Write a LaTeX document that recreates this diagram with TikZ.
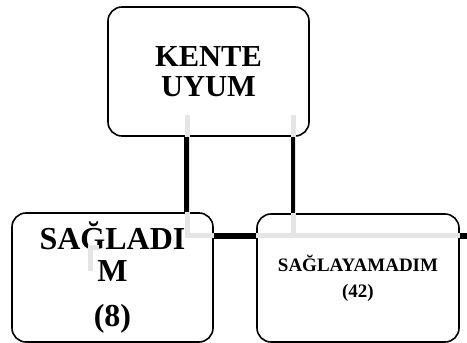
\documentclass[tikz,border=0pt]{standalone}
\usepackage{fontspec}
\setmainfont{Liberation Serif}

\tikzset{
	box/.style={draw, line width=1.6pt, rounded corners=14pt, fill=white, minimum width=201pt, minimum height=129pt, align=center, inner sep=0pt},
	link/.style={line width=4.4pt},
	ghost/.style={gray!20, line width=5pt}
}

\begin{document}
\begin{tikzpicture}[x=1pt, y=-1pt]
	\useasboundingbox (0,0) rectangle (467,343);
	\node [box, font=\bfseries\fontsize{30.5}{30}\selectfont] (kente) at (208.5,71.5) {KENTE\\UYUM};
	\node [box, font=\bfseries\fontsize{32}{32}\selectfont] (yes) at (112.5,277.5) {SAĞLADI\\M\\[13pt](8)};
	\node [box, minimum width=202pt, minimum height=128pt, font=\bfseries\fontsize{19}{26}\selectfont] (no) at (358,278) {\raisebox{-6pt}{SAĞLAYAMADIM}\\\raisebox{-6pt}{(42)}};
	\coordinate (c1) at (186.5,0);
	\coordinate (c2) at (293,0);
	\coordinate (edge) at (467,236);
	\draw [ghost] (187,115) -- (187,235) -- (467,235);
	\draw [ghost] (293,115) -- (293,235);
	\draw [ghost] (90,271) -- (90,247) -- (99,247);
	\draw [link] (kente.south -| c1) -- (yes.north -| c1);
	\draw [link] (kente.south -| c2) -- (no.north -| c2);
	\draw [link, line width=6pt] (yes.east |- edge) -- (no.west |- edge);
	\draw [link, line width=6pt] (no.east |- edge) -- (edge);
\end{tikzpicture}
\end{document}
